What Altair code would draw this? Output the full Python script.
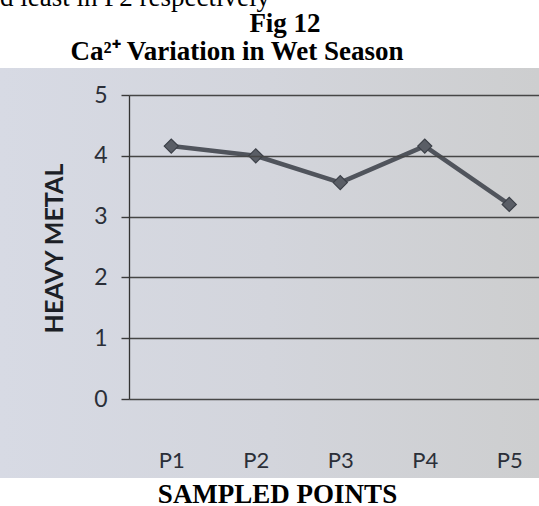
import altair as alt
import pandas as pd

# Calcium (Ca2+) level at each sampled point during the wet season
points = ["P1", "P2", "P3", "P4", "P5"]
ca_values = [4.16, 4.0, 3.56, 4.16, 3.2]
y_ticks = [0, 1, 2, 3, 4, 5]

df = pd.DataFrame({"point": points, "value": ca_values})

SERIF = "Liberation Serif"
SANS = "Lato"
INK = "#2b2f38"

x_enc = alt.X(
    "point:O",
    sort=points,
    scale=alt.Scale(domain=points, range=[0, 422.5], padding=0.5),
    axis=alt.Axis(
        title="SAMPLED POINTS",
        titleFont=SERIF, titleFontSize=27, titleFontWeight="bold", titleColor="#000000",
        titleX=148, titleY=103, titleBaseline="alphabetic", titleAnchor="middle",
        labelFont=SANS, labelFontSize=22, labelColor=INK, labelAngle=0,
        labelPadding=51, ticks=False, domain=False, grid=False, zindex=1,
    ),
)
y_enc = alt.Y(
    "value:Q",
    scale=alt.Scale(domain=[0, 5], nice=False, zero=True),
    axis=alt.Axis(
        title="HEAVY METAL",
        titleFont=SANS, titleFontSize=25, titleFontWeight="bold", titleColor="#1c1f26",
        titleX=-62, titleY=153, titleAngle=270, titleAnchor="middle",
        values=y_ticks, labelFont=SANS, labelFontSize=23, labelColor=INK,
        labelPadding=14, tickSize=8, tickColor="#3a3a3a", tickWidth=1.4,
        domain=True, domainColor="#333333", domainWidth=1.3,
        grid=True, gridColor="#464646", gridWidth=1.6, gridOpacity=1, zindex=1,
    ),
)

# paper background of the printed figure
panel = alt.Chart(pd.DataFrame({"k": [0]})).mark_rect(
    color=alt.Gradient(
        gradient="linear",
        stops=[alt.GradientStop(color="#d7dae4", offset=0),
               alt.GradientStop(color="#d3d5dc", offset=0.5),
               alt.GradientStop(color="#cdcecf", offset=1)],
        x1=0, x2=1, y1=0, y2=0,
    )
).encode(x=alt.value(-129), x2=alt.value(410), y=alt.value(-27), y2=alt.value(383))

line = alt.Chart(df).mark_line(color="#50545c", strokeWidth=4.5).encode(x=x_enc, y=y_enc)
dots = alt.Chart(df).mark_point(
    shape="diamond", filled=True, size=200, color="#5a5e66",
    stroke="#3c4048", strokeWidth=1.2, opacity=1,
).encode(x=x_enc, y=y_enc)


def label(text, x, y, size, align="center"):
    return alt.Chart(pd.DataFrame({"t": [text]})).mark_text(
        font=SERIF, fontSize=size, fontWeight="bold", color="#000000",
        align=align, baseline="alphabetic",
    ).encode(x=alt.value(x), y=alt.value(y), text="t:N")


prev_line = alt.Chart(pd.DataFrame({"t": ["d least in P2 respectively"]})).mark_text(
    font=SERIF, fontSize=27, color="#000000", align="left", baseline="alphabetic",
).encode(x=alt.value(-129), y=alt.value(-89), text="t:N")

chart = alt.layer(
    panel,
    prev_line,
    label("Fig 12", 156, -63, 27),
    label("Ca²⁺ Variation in Wet Season", 108, -35, 27),
    line,
    dots,
).properties(
    width=410,
    height=304,
    autosize=alt.AutoSizeParams(type="none"),
    padding={"left": 129, "top": 95, "right": 0, "bottom": 107},
    background="#ffffff",
).configure_view(stroke=None)

chart.save("out.html", embed_options={"renderer": "svg", "actions": False})
